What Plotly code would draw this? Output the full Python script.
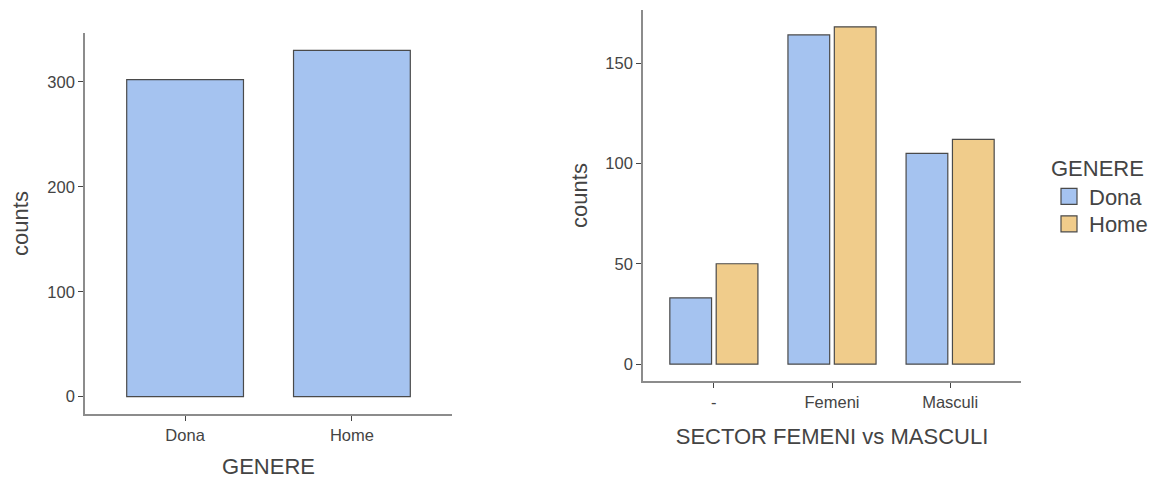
import plotly.graph_objects as go

# Data
genere_cats = ["Dona", "Home"]
genere_counts = [302, 330]

sector_cats = ["-", "Femeni", "Masculi"]
sector_dona = [33, 164, 105]
sector_home = [50, 168, 112]

BLUE = "#A5C3F0"
ORANGE = "#F0CC8B"
EDGE = "#4a4a4a"
W, H = 1158, 481
OFF = 8  # page body margin
FONT = "Liberation Sans, Arial, sans-serif"
TXT = "#444444"

fig = go.Figure()

fig.add_trace(go.Bar(x=genere_cats, y=genere_counts, marker=dict(color=BLUE, line=dict(color=EDGE, width=1.2)),
                     xaxis="x", yaxis="y", showlegend=False, width=0.7))

fig.add_trace(go.Bar(x=sector_cats, y=sector_dona, name="Dona", marker=dict(color=BLUE, line=dict(color=EDGE, width=1.2)),
                     xaxis="x2", yaxis="y2", offsetgroup="d", showlegend=False))
fig.add_trace(go.Bar(x=sector_cats, y=sector_home, name="Home", marker=dict(color=ORANGE, line=dict(color=EDGE, width=1.2)),
                     xaxis="x2", yaxis="y2", offsetgroup="h", showlegend=False))

# legend keys (square swatches like ggplot keys)
fig.add_trace(go.Scatter(x=[None], y=[None], mode="markers", name="Dona", xaxis="x2", yaxis="y2",
                         marker=dict(symbol="square", size=22, color=BLUE, line=dict(color=EDGE, width=1.2)),
                         legend="legend"))
fig.add_trace(go.Scatter(x=[None], y=[None], mode="markers", name="Home", xaxis="x2", yaxis="y2",
                         marker=dict(symbol="square", size=22, color=ORANGE, line=dict(color=EDGE, width=1.2)),
                         legend="legend2"))

def px_x(a, b):
    return [(a - OFF) / W, (b - OFF) / W]

def px_y(top, bottom):
    return [(H - (bottom - OFF)) / H, (H - (top - OFF)) / H]

axis_common = dict(showline=True, linecolor="#8c8c8c", linewidth=1.6, ticks="outside", ticklen=5,
                   tickcolor="#444444", tickwidth=1.3, showgrid=False, zeroline=False,
                   tickfont=dict(family=FONT, size=16.5, color=TXT))
title_font = dict(size=22, family=FONT, color=TXT)
leg_font = dict(size=22, family=FONT, color=TXT)
CLEAR = "rgba(0,0,0,0)"

fig.update_layout(
    width=W, height=H,
    margin=dict(l=0, r=0, t=0, b=0),
    paper_bgcolor="white", plot_bgcolor="white",
    barmode="group", bargap=0.215, bargroupgap=0.1,
    font=dict(family=FONT, color=TXT),
    xaxis=dict(domain=px_x(85, 452), anchor="y", type="category", range=[-0.6, 1.6],
               title=dict(text="GENERE", font=title_font, standoff=16), **axis_common),
    yaxis=dict(domain=px_y(33, 414), anchor="x", range=[-16.5, 346.5], tickvals=[0, 100, 200, 300],
               title=dict(text="counts", font=title_font, standoff=14), **axis_common),
    xaxis2=dict(domain=px_x(643, 1021), anchor="y2", type="category", range=[-0.6, 2.6],
                title=dict(text="SECTOR FEMENI vs MASCULI", font=title_font, standoff=19), **axis_common),
    yaxis2=dict(domain=px_y(10, 381), anchor="x2", range=[-8.4, 176.4], tickvals=[0, 50, 100, 150],
                title=dict(text="counts", font=title_font, standoff=12), **axis_common),
    legend=dict(x=(1049 - OFF) / W, y=(H - (147 - OFF)) / H, xanchor="left", yanchor="top",
                title=dict(text="GENERE", font=leg_font), itemsizing="trace", bgcolor=CLEAR,
                font=leg_font, tracegroupgap=0, itemwidth=30),
    legend2=dict(x=(1049 - OFF) / W, y=(H - (203 - OFF)) / H, xanchor="left", yanchor="top",
                 itemsizing="trace", font=leg_font, tracegroupgap=0, itemwidth=30, bgcolor=CLEAR),
)

fig.write_html("out.html")
